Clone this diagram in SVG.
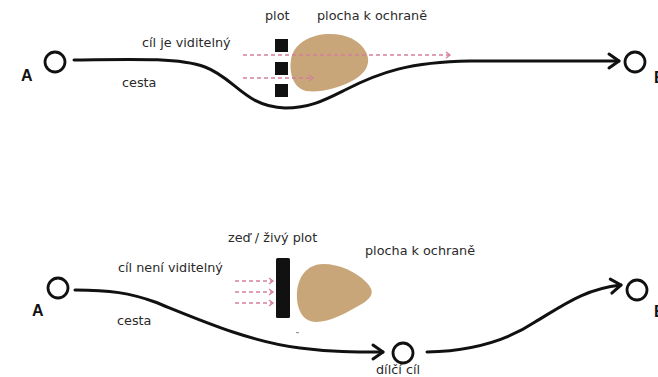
<svg xmlns="http://www.w3.org/2000/svg" width="658" height="377" viewBox="0 0 658 377">
  <defs>
    <marker id="arrow" markerUnits="userSpaceOnUse" markerWidth="20" markerHeight="20" viewBox="-12 -10 14 20" refX="0" refY="0" orient="auto">
      <path d="M-10,-7 L0,0 L-10,7" fill="none" stroke="#111" stroke-width="3" stroke-linecap="round" stroke-linejoin="round"/>
    </marker>
    <marker id="sight" markerUnits="userSpaceOnUse" markerWidth="10" markerHeight="10" viewBox="-6 -5 7 10" refX="0" refY="0" orient="auto">
      <path d="M-4,-3 L0,0 L-4,3" fill="none" stroke="#d2809a" stroke-width="1.3"/>
    </marker>
  </defs>
  <style>
    .lbl { font-family: "DejaVu Sans", sans-serif; font-size: 12.8px; fill: #2a2a2a; }
    .pt { font-family: "Liberation Sans", sans-serif; font-size: 16px; font-weight: bold; fill: #111; }
    .stop { fill: #fff; stroke: #111; stroke-width: 2.8; }
    .path { fill: none; stroke: #111; stroke-width: 3; stroke-linecap: round; }
    .area { fill: #c9a679; }
    .barrier { fill: #111; }
    .ray { fill: none; stroke: #d2809a; stroke-width: 1.3; stroke-dasharray: 4 3; }
  </style>
  <rect width="658" height="377" fill="#fff"/>

  <!-- upper scheme: target visible through the fence -->
  <g id="area-top">
    <path class="area" d="M327,34 C345,33 360,40 366,52 C372,64 365,74 352,81 C338,88 320,93 306,91 C293,88 289,72 291,60 C293,45 308,35 327,34 Z"/>
  </g>
  <g id="fence-top">
    <rect class="barrier" x="275" y="39" width="13" height="13"/>
    <rect class="barrier" x="275" y="62" width="13" height="13"/>
    <rect class="barrier" x="275" y="84" width="13" height="13"/>
  </g>
  <g id="start-top">
    <circle class="stop" cx="55" cy="62" r="10"/>
    <text class="pt" x="21" y="81">A</text>
  </g>
  <g id="end-top">
    <circle class="stop" cx="635" cy="62" r="10"/>
    <text class="pt" x="654" y="83">B</text>
  </g>

  <!-- lower scheme: target hidden behind the wall -->
  <g id="area-bottom">
    <path class="area" d="M323,264 C340,264 356,272 366,282 C376,292 372,298 360,305 C346,313 330,322 316,322 C302,322 296,308 297,292 C298,276 308,264 323,264 Z"/>
  </g>
  <g id="wall-bottom">
    <rect class="barrier" x="276" y="258" width="14" height="60" rx="1.5"/>
  </g>
  <rect x="296" y="332" width="3" height="1.2" fill="#999"/>
  <g id="start-bottom">
    <circle class="stop" cx="58" cy="288" r="10"/>
    <text class="pt" x="32" y="316">A</text>
  </g>
  <g id="waypoint-bottom">
    <circle class="stop" cx="403" cy="353" r="10"/>
    <text class="lbl" x="376" y="374">dílčí cíl</text>
  </g>
  <g id="end-bottom">
    <circle class="stop" cx="637" cy="290" r="10"/>
    <text class="pt" x="654" y="317">B</text>
  </g>

  <g id="connectors">
    <path class="path" d="M74,60 C140,59 180,58 205,67 C235,78 245,107 285,108 C310,108 325,100 345,90 C380,72 410,62 470,61 L619,61" marker-end="url(#arrow)"/>
    <path class="ray" d="M243,55 L450,55" marker-end="url(#sight)"/>
    <path class="ray" d="M243,78 L313,78" marker-end="url(#sight)"/>

    <path class="path" d="M75,290 C110,290 130,293 155,302 C200,320 250,342 300,348 C330,352 355,352 383,352" marker-end="url(#arrow)"/>
    <path class="path" d="M427,352 C470,351 505,342 535,322 C565,304 585,289 621,285" marker-end="url(#arrow)"/>
    <path class="ray" d="M235,281 L273,281" marker-end="url(#sight)"/>
    <path class="ray" d="M235,292 L273,292" marker-end="url(#sight)"/>
    <path class="ray" d="M235,303 L273,303" marker-end="url(#sight)"/>
  </g>

  <g id="labels">
    <text class="lbl" x="265" y="20">plot</text>
    <text class="lbl" x="317" y="20">plocha k ochraně</text>
    <text class="lbl" x="142" y="47">cíl je viditelný</text>
    <text class="lbl" x="122" y="87">cesta</text>
    <text class="lbl" x="228" y="242">zeď / živý plot</text>
    <text class="lbl" x="365" y="255">plocha k ochraně</text>
    <text class="lbl" x="118" y="272">cíl není viditelný</text>
    <text class="lbl" x="117" y="325">cesta</text>
  </g>
</svg>
